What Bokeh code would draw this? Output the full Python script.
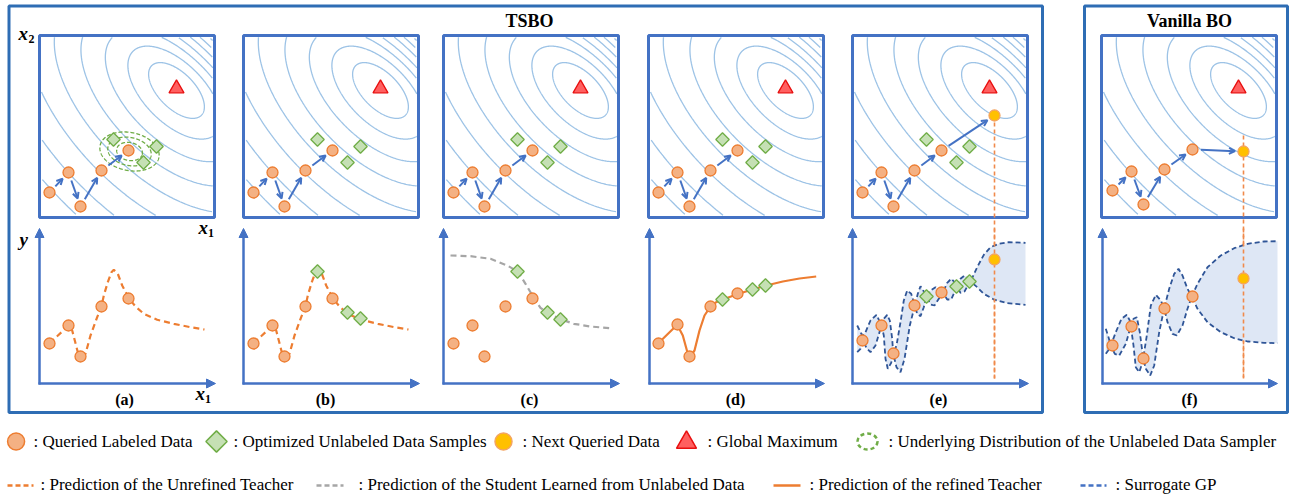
import numpy as np
from bokeh.plotting import figure
from bokeh.models import Range1d, Arrow, OpenHead, NormalHead, ColumnDataSource
from bokeh.core.properties import value
from bokeh.embed import file_html
from bokeh.resources import INLINE

# ---------------- data ----------------
panel_names = ["(a)", "(b)", "(c)", "(d)", "(e)", "(f)"]

# search-space panels: x1 = px from panel left, x2 = px from panel top
lab_x1 = [10, 29, 41, 62, 89]
lab_x2 = [157, 137, 171, 135, 115]
unl_x1 = [74, 117, 104]
unl_x2 = [104, 111, 127]
gmax_x1, gmax_x2 = 137, 53
next_tsbo_x1, next_tsbo_x2 = 142, 80
van_x1 = [11, 30, 42, 63, 91]
van_x2 = [155, 136, 169, 134, 114]
next_van_x1, next_van_x2 = 142, 116

# function panels: x = px from y-axis, y = height above x-axis
lab_y_abc = [40, 58, 27, 77, 85]
unl_y_b = [112, 65, 71]
unl_y_c = [112, 64, 71]
lab_y_d = [40, 59, 27, 77, 90]
unl_y_d = [84, 98, 94]
lab_y_e = [43, 58, 30, 78, 91]
unl_y_e = [87, 102, 97]
next_tsbo_y = 124
van_y = [38, 57, 25, 75, 87]
next_van_y = 105

teacher_x = [10, 29.3, 32.7, 38.3, 41, 46, 51, 57.7, 62, 64.3, 68.3, 72, 74.3, 78.3, 82.7, 89.3, 96, 104.3, 117.7, 134.3, 151, 165]
teacher_y = [40.3, 58, 53, 31.3, 27.3, 29.7, 48, 66.3, 77, 88, 101.3, 111.3, 113.7, 109.7, 98, 85.3, 77, 69.7, 63.7, 59.7, 56.3, 54]

student_x = [7, 27, 47, 63.7, 74.3, 82, 87, 90.3, 97, 103.7, 118, 130.3, 147, 167]
student_y = [128, 127.3, 124.7, 118, 112, 99.7, 91.3, 85.3, 75.7, 70.7, 64, 59.7, 57, 55.3]

refined_x = [9.3, 28.7, 34.3, 39.3, 41.7, 46, 51, 56, 62, 67.7, 73.7, 90, 103.3, 117.7, 134.3, 151, 167.7]
refined_y = [39.7, 58.7, 48, 29.7, 27, 33, 53, 68, 77, 81.3, 83.7, 89.7, 93.7, 98, 102, 105, 107]

gp_e_up_x = [4.7, 9.7, 13, 18, 24, 29, 31.3, 34.7, 37.3, 39.7, 40.7, 44, 48, 51.3, 54.7, 58.7, 62.3, 65.3, 68, 71.3, 74, 78, 83, 86.7, 90.3, 94.7, 98.7, 102, 104, 108, 112, 115.3, 118, 124.7, 131.3, 138, 146.3, 156.3, 173]
gp_e_up_y = [58, 48, 51.3, 63, 68.7, 58, 64.7, 68.7, 63, 44.7, 29.7, 38, 61.3, 83, 93, 89.7, 78, 89.7, 97.3, 92, 87, 93, 96.3, 93, 90.7, 100.7, 104.7, 101.3, 97, 104.7, 108, 104.7, 102, 116.3, 128.7, 136.3, 139.7, 141.3, 140.7]
gp_e_lo_x = [4.7, 8, 10.7, 14, 18, 23, 29, 31.3, 33, 35.3, 38.7, 40.7, 44, 48, 52, 57.3, 62.3, 64.7, 68, 71.3, 74, 78, 82, 86.3, 90.3, 94.7, 98.7, 102, 104, 108, 112, 115.3, 118, 124.7, 131.3, 141.3, 154.7, 173]
gp_e_lo_y = [31.3, 34.7, 43, 35.3, 31.3, 38, 58, 48, 24.7, 14.7, 20.7, 29.7, 16.3, 11.3, 24.7, 58, 78, 69.7, 67.3, 76.3, 87, 79, 78, 84.7, 90.7, 84, 84, 91.3, 97, 90.7, 92, 98, 102, 96.3, 89.7, 84, 80.3, 78.7]

gp_f_up_x = [4.3, 7, 9.3, 14.3, 20, 25.3, 28.3, 29.3, 32, 35.3, 38.3, 41.7, 45.3, 49.3, 54.3, 59.3, 62.7, 67.7, 72.7, 77, 81, 86, 90.3, 96, 106, 119.3, 132.7, 146, 162.7, 176]
gp_f_up_y = [54.7, 46.3, 38, 51.3, 64.7, 68.7, 63, 57.3, 64.7, 66.3, 51.3, 25.3, 48, 78, 88.7, 83, 75.3, 94.7, 109.7, 114.7, 108, 94.7, 87, 99.7, 116.3, 128, 135.3, 139.7, 142, 142.3]
gp_f_lo_x = [4.3, 6.7, 9.3, 13.3, 17.7, 24.3, 29.3, 32, 34.3, 37.7, 40, 41.7, 44.3, 48.7, 52.7, 57.7, 62.7, 66, 71, 75.3, 81, 86, 90.3, 96, 106, 119.3, 132.7, 146, 162.7, 176]
gp_f_lo_y = [29.7, 33, 38, 29.7, 28, 39.7, 57.3, 38, 16.3, 11.3, 18, 25.3, 14.7, 8, 18, 51.3, 75.3, 61.3, 49.7, 48, 58, 74.7, 87, 74.7, 61.3, 51.3, 45.3, 42, 40.7, 40.3]

legend_row1 = [": Queried Labeled Data", ": Optimized Unlabeled Data Samples", ": Next Queried Data",
               ": Global Maximum", ": Underlying Distribution of the Unlabeled Data Sampler"]
legend_row2 = [": Prediction of the Unrefined Teacher", ": Prediction of the Student Learned from Unlabeled Data",
               ": Prediction of the refined Teacher", ": Surrogate GP"]

# ---------------- layout / style ----------------
panel_left = [39, 243, 443, 648, 852, 1101]
TOP, PW, PH = 35, 175, 182
BASE, YTOP = 383, 228
label_x = [124, 325, 529, 735, 938, 1189]

BLUE = "#4472C4"
OUTER = "#2E6DB4"
CONT = "#9DC3E6"
OR_FILL, OR_LINE = "#F4B183", "#ED7D31"
GR_FILL, GR_LINE = "#C5E0B4", "#70AD47"
YEL_FILL, YEL_LINE = "#FFC000", "#F4A460"
RED_FILL, RED_LINE = "#FF6060", "#E81010"
NAVY = "#2F5597"
GP_FILL = "#DEE7F5"
SERIF = value("Liberation Serif")

p = figure(width=1294, height=495, x_range=Range1d(0, 1294), y_range=Range1d(495, 0),
           output_backend="svg", toolbar_location=None, min_border=0,
           x_axis_location=None, y_axis_location=None)
p.grid.visible = False
p.outline_line_color = None


def clip_runs(x, y, x0, x1, y0, y1):
    inside = (x > x0) & (x < x1) & (y > y0) & (y < y1)
    ox, oy, cx, cy = [], [], [], []
    for xi, yi, ok in zip(x, y, inside):
        if ok:
            cx.append(float(xi)); cy.append(float(yi))
        else:
            if len(cx) > 1:
                ox.append(cx); oy.append(cy)
            cx, cy = [], []
    if len(cx) > 1:
        ox.append(cx); oy.append(cy)
    return ox, oy


def ellipse_pts(cx, cy, a, b, th, n=400):
    t = np.linspace(0, 2 * np.pi, n)
    x = cx + a * np.cos(t) * np.cos(th) - b * np.sin(t) * np.sin(th)
    y = cy + a * np.cos(t) * np.sin(th) + b * np.sin(t) * np.cos(th)
    return x, y


# contour family (objective landscape), shared by all search-space panels
lvl_ll = [18, 33, 50, 69, 90, 112, 135, 159, 184, 210]
lvl_ur = [18, 27, 35, 42, 49, 55, 61, 66, 71, 76]
ratio = 1.95
vdir = np.array([-1.0, 1.0]) / np.sqrt(2)

cxs, cys = [], []
for L in panel_left:
    c0 = np.array([L + 137.0, TOP + 55.0])
    for ll, ur in zip(lvl_ll, lvl_ur):
        b = (ll + ur) / 2.0
        sh = (ll - ur) / 2.0
        c = c0 + sh * vdir
        ex, ey = ellipse_pts(c[0], c[1], ratio * b, b, np.pi / 4)
        rx, ry = clip_runs(ex, ey, L + 1.5, L + PW - 1.5, TOP + 1.5, TOP + PH - 1.5)
        cxs += rx; cys += ry
p.multi_line(cxs, cys, line_color=CONT, line_width=1.3)

# panel boxes
for L in panel_left:
    p.rect(x=L + PW / 2, y=TOP + PH / 2, width=PW, height=PH, fill_color=None,
           line_color=BLUE, line_width=3)

# outer boxes
p.rect(x=(8.5 + 1042) / 2, y=(5.5 + 412) / 2, width=1042 - 8.5, height=412 - 5.5,
       fill_color=None, line_color=OUTER, line_width=3)
p.rect(x=(1084 + 1287) / 2, y=(5.5 + 412) / 2, width=1287 - 1084, height=412 - 5.5,
       fill_color=None, line_color=OUTER, line_width=3)

# unlabeled data sampler distribution (panel a)
dist_a = [30, 22, 13]
dist_b = [19, 14, 9]
dxs, dys = [], []
for a, b in zip(dist_a, dist_b):
    ex, ey = ellipse_pts(panel_left[0] + 90, TOP + 116, a, b, 0.2)
    dxs.append(list(ex)); dys.append(list(ey))
p.multi_line(dxs, dys, line_color=GR_LINE, line_width=1.3, line_dash="4 2")


def add_arrows(xs, ys, s0=8.5, s1=8.5):
    x0s, y0s, x1s, y1s = [], [], [], []
    for i in range(len(xs) - 1):
        d = np.array([xs[i + 1] - xs[i], ys[i + 1] - ys[i]], dtype=float)
        u = d / np.hypot(*d)
        x0s.append(xs[i] + s0 * u[0]); y0s.append(ys[i] + s0 * u[1])
        x1s.append(xs[i + 1] - s1 * u[0]); y1s.append(ys[i + 1] - s1 * u[1])
    src = ColumnDataSource(dict(x0=x0s, y0=y0s, x1=x1s, y1=y1s))
    p.add_layout(Arrow(end=OpenHead(size=6, line_color=BLUE, line_width=2),
                       x_start="x0", y_start="y0", x_end="x1", y_end="y1",
                       source=src, line_color=BLUE, line_width=2))


# vertical next-query lines (drawn under markers)
p.segment(x0=[panel_left[4] + next_tsbo_x1, panel_left[5] + next_van_x1],
          y0=[TOP + next_tsbo_x2, TOP + next_van_x2 - 16],
          x1=[panel_left[4] + next_tsbo_x1, panel_left[5] + next_van_x1],
          y1=[378, 378], line_color="#F08A4B", line_width=1.6, line_dash="4 3")

# search-space markers & arrows
for k, L in enumerate(panel_left):
    if k < 5:
        xs = [L + v for v in lab_x1]
        ys = [TOP + v for v in lab_x2]
        if k == 4:
            add_arrows(xs + [L + next_tsbo_x1], ys + [TOP + next_tsbo_x2])
        else:
            add_arrows(xs, ys)
        p.scatter([L + v for v in unl_x1], [TOP + v for v in unl_x2], marker="square",
                  angle=np.pi / 4, size=9.5, fill_color=GR_FILL, line_color=GR_LINE, line_width=1.3)
        p.scatter(xs, ys, marker="circle", size=11, fill_color=OR_FILL, line_color=OR_LINE, line_width=1.3)
        if k == 4:
            p.scatter([L + next_tsbo_x1], [TOP + next_tsbo_x2], marker="circle", size=11,
                      fill_color=YEL_FILL, line_color=YEL_LINE, line_width=1.3)
    else:
        xs = [L + v for v in van_x1]
        ys = [TOP + v for v in van_x2]
        add_arrows(xs + [L + next_van_x1], ys + [TOP + next_van_x2])
        p.scatter(xs, ys, marker="circle", size=11, fill_color=OR_FILL, line_color=OR_LINE, line_width=1.3)
        p.scatter([L + next_van_x1], [TOP + next_van_x2], marker="circle", size=11,
                  fill_color=YEL_FILL, line_color=YEL_LINE, line_width=1.3)
    p.scatter([L + gmax_x1], [TOP + gmax_x2], marker="triangle", size=15,
              fill_color=RED_FILL, line_color=RED_LINE, line_width=1.3)


# ---------------- function panels ----------------
def X(k, xs):
    return [panel_left[k] + v for v in xs]


def Y(ys):
    return [BASE - v for v in ys]


# GP bands
for k, (ux, uy, lx, ly) in zip([4, 5], [(gp_e_up_x, gp_e_up_y, gp_e_lo_x, gp_e_lo_y),
                                         (gp_f_up_x, gp_f_up_y, gp_f_lo_x, gp_f_lo_y)]):
    p.patch(X(k, ux) + X(k, lx)[::-1], Y(uy) + Y(ly)[::-1], fill_color=GP_FILL, line_color=None)
    p.line(X(k, ux), Y(uy), line_color=NAVY, line_width=1.8, line_dash="5 3")
    p.line(X(k, lx), Y(ly), line_color=NAVY, line_width=1.8, line_dash="5 3")

# teacher / student curves
p.line(X(0, teacher_x), Y(teacher_y), line_color=OR_LINE, line_width=2.2, line_dash="6 4")
p.line(X(1, teacher_x), Y(teacher_y), line_color=OR_LINE, line_width=2.2, line_dash="6 4")
p.line(X(2, student_x), Y(student_y), line_color="#A6A6A6", line_width=2.2, line_dash="6 4")
p.line(X(3, refined_x), Y(refined_y), line_color=OR_LINE, line_width=2.2)

# vertical dashed over the band
p.segment(x0=[panel_left[4] + next_tsbo_x1, panel_left[5] + next_van_x1], y0=[228, 228],
          x1=[panel_left[4] + next_tsbo_x1, panel_left[5] + next_van_x1], y1=[378, 378],
          line_color="#F08A4B", line_width=1.6, line_dash="4 3")

# markers in function panels
diam = dict(marker="square", angle=np.pi / 4, size=9.5, fill_color=GR_FILL, line_color=GR_LINE, line_width=1.3)
circ = dict(marker="circle", size=11, fill_color=OR_FILL, line_color=OR_LINE, line_width=1.3)
yel = dict(marker="circle", size=11, fill_color=YEL_FILL, line_color=YEL_LINE, line_width=1.3)
p.scatter(X(0, lab_x1), Y(lab_y_abc), **circ)
p.scatter(X(1, lab_x1), Y(lab_y_abc), **circ)
p.scatter(X(1, unl_x1), Y(unl_y_b), **diam)
p.scatter(X(2, lab_x1), Y(lab_y_abc), **circ)
p.scatter(X(2, unl_x1), Y(unl_y_c), **diam)
p.scatter(X(3, lab_x1), Y(lab_y_d), **circ)
p.scatter(X(3, unl_x1), Y(unl_y_d), **diam)
p.scatter(X(4, lab_x1), Y(lab_y_e), **circ)
p.scatter(X(4, unl_x1), Y(unl_y_e), **diam)
p.scatter(X(4, [next_tsbo_x1]), Y([next_tsbo_y]), **yel)
p.scatter(X(5, van_x1), Y(van_y), **circ)
p.scatter(X(5, [next_van_x1]), Y([next_van_y]), **yel)

# axis arrows
for L in panel_left:
    x0 = L + (1 if L in (648, 1101) else 0)
    for (xs_, ys_, xe_, ye_) in [(x0, BASE + 1, x0, YTOP), (x0 - 1, BASE, L + PW + 1, BASE)]:
        p.add_layout(Arrow(end=NormalHead(size=9, fill_color=BLUE, line_color=BLUE, line_width=1),
                           x_start=xs_, y_start=ys_, x_end=xe_, y_end=ye_,
                           line_color=BLUE, line_width=2.5))

# ---------------- texts ----------------
p.text(x=[529, 1189], y=[20, 20], text=["TSBO", "Vanilla BO"], text_font=SERIF,
       text_font_size="18px", text_font_style="bold", text_align="center", text_baseline="middle")
p.text(x=label_x, y=[399] * 6, text=panel_names, text_font=SERIF, text_font_size="16px",
       text_font_style="bold", text_align="center", text_baseline="middle")
# axis symbols
p.text(x=[18, 198, 195], y=[33, 227, 393], text=["x", "x", "x"], text_font=SERIF,
       text_font_size="19px", text_font_style="bold italic", text_align="left", text_baseline="middle")
p.text(x=[28, 207.5, 204.5], y=[38, 232, 398], text=["2", "1", "1"], text_font=SERIF,
       text_font_size="12px", text_font_style="bold", text_align="left", text_baseline="middle")
p.text(x=[19], y=[239], text=["y"], text_font=SERIF,
       text_font_size="19px", text_font_style="bold italic", text_align="left", text_baseline="middle")

# ---------------- legend ----------------
R1, R2 = 441, 484
p.scatter([15.6], [R1], marker="circle", size=17, fill_color=OR_FILL, line_color=OR_LINE, line_width=1.5)
p.scatter([216], [R1], marker="square", angle=np.pi / 4, size=15, fill_color=GR_FILL, line_color=GR_LINE, line_width=1.5)
p.scatter([503], [R1], marker="circle", size=17, fill_color=YEL_FILL, line_color=YEL_LINE, line_width=1.5)
p.scatter([686], [R1 + 1], marker="triangle", size=20, fill_color=RED_FILL, line_color=RED_LINE, line_width=1.5)
p.ellipse(x=[867], y=[R1], width=20, height=16, fill_color=None, line_color=GR_LINE,
          line_width=2.5, line_dash="4 3")
p.text(x=[33, 233, 522, 707, 888], y=[R1] * 5, text=legend_row1, text_font=SERIF,
       text_font_size="17px", text_align="left", text_baseline="middle")

p.segment(x0=[7, 316, 1080], y0=[R2 + 1] * 3, x1=[33, 343, 1106], y1=[R2 + 1] * 3,
          line_color=[OR_LINE, "#A6A6A6", BLUE], line_width=2.5, line_dash="5 3")
p.segment(x0=[773], y0=[R2 + 1], x1=[800], y1=[R2 + 1], line_color=OR_LINE, line_width=2.5)
p.text(x=[40, 358, 809, 1115], y=[R2] * 4, text=legend_row2, text_font=SERIF,
       text_font_size="17px", text_align="left", text_baseline="middle")

open("out.html", "w").write(file_html(p, INLINE))
